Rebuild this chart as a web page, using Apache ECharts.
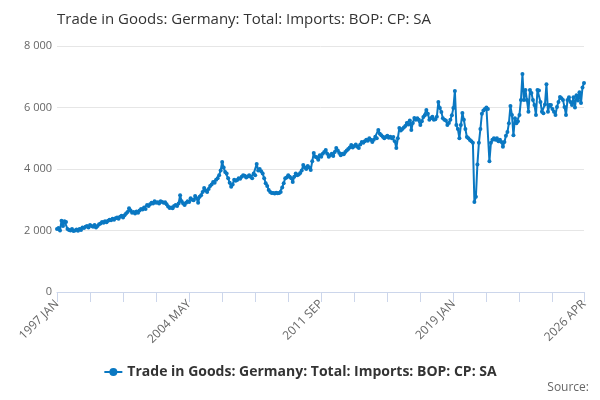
<!DOCTYPE html>
<html>
<head>
<meta charset="utf-8">
<script src="https://cdn.jsdelivr.net/npm/echarts@6/dist/echarts.min.js"></script>
<style>
  html, body { margin: 0; padding: 0; background: #fff; }
  #chart { width: 600px; height: 400px; }
</style>
</head>
<body>
<div id="chart"></div>
<script>
// monthly series, 1997 JAN .. 2026 APR
var years = [];
for (var y = 1997; y <= 2026; y++) years.push(y);
var months = ['JAN', 'FEB', 'MAR', 'APR', 'MAY', 'JUN', 'JUL', 'AUG', 'SEP', 'OCT', 'NOV', 'DEC'];

var imports = [
    2050, 2080, 2000, 2320, 2150, 2300, 2280, 2050, 2020, 2000, 2050, 1980, // 1997
    2000, 2030, 1990, 2050, 2020, 2100, 2080, 2120, 2150, 2100, 2180, 2150, // 1998
    2120, 2180, 2100, 2150, 2200, 2230, 2280, 2250, 2300, 2270, 2320, 2350, // 1999
    2330, 2380, 2350, 2400, 2420, 2380, 2450, 2480, 2420, 2500, 2550, 2600, // 2000
    2720, 2650, 2580, 2600, 2550, 2620, 2580, 2650, 2700, 2680, 2750, 2700, // 2001
    2830, 2800, 2850, 2900, 2880, 2950, 2900, 2920, 2880, 2950, 2930, 2900, // 2002
    2920, 2850, 2780, 2730, 2750, 2720, 2800, 2830, 2800, 2880, 3150, 2950, // 2003
    2880, 2830, 2900, 2950, 2930, 3050, 3000, 2980, 3120, 3050, 2900, 3100, // 2004
    3150, 3250, 3380, 3300, 3250, 3350, 3450, 3500, 3580, 3550, 3650, 3700, // 2005
    3800, 3950, 4230, 4050, 3900, 3850, 3700, 3550, 3420, 3500, 3650, 3620, // 2006
    3640, 3700, 3680, 3750, 3800, 3780, 3720, 3760, 3800, 3750, 3700, 3850, // 2007
    3800, 4160, 3950, 4000, 3930, 3850, 3700, 3540, 3450, 3320, 3250, 3220, // 2008
    3220, 3200, 3230, 3210, 3220, 3250, 3400, 3540, 3700, 3720, 3800, 3750, // 2009
    3700, 3580, 3750, 3850, 3800, 3820, 3870, 3950, 4130, 4050, 4000, 4100, // 2010
    4050, 3970, 4250, 4520, 4400, 4380, 4300, 4450, 4400, 4500, 4550, 4620, // 2011
    4500, 4400, 4450, 4500, 4420, 4550, 4680, 4600, 4520, 4450, 4500, 4480, // 2012
    4550, 4600, 4650, 4700, 4780, 4700, 4750, 4800, 4720, 4680, 4800, 4880, // 2013
    4850, 4900, 4950, 4920, 5000, 4950, 4880, 4950, 5050, 5000, 5270, 5150, // 2014
    5100, 5050, 5000, 5040, 5080, 5020, 5050, 5000, 5040, 4900, 4680, 5000, // 2015
    5330, 5250, 5300, 5350, 5400, 5500, 5450, 5580, 5270, 5500, 5660, 5600, // 2016
    5650, 5600, 5430, 5550, 5690, 5750, 5920, 5800, 5600, 5650, 5700, 5600, // 2017
    5620, 5700, 6180, 5980, 5850, 5650, 5600, 5580, 5430, 5500, 5600, 5750, // 2018
    5980, 6540, 5430, 5300, 5000, 5430, 5820, 5600, 5300, 5040, 5000, 4940, // 2019
    4900, 4850, 2930, 3100, 4150, 4850, 5300, 5800, 5900, 5950, 6000, 5950, // 2020
    4250, 4850, 4950, 5000, 4950, 5000, 4900, 4950, 4880, 4720, 4880, 5080, // 2021
    5200, 5490, 6050, 5760, 5100, 5650, 5490, 5550, 5760, 6240, 7090, 6240, // 2022
    6570, 6240, 5860, 6570, 6470, 6240, 6080, 5760, 6570, 6550, 6180, 5860, // 2023
    5810, 6100, 6760, 5860, 6080, 6080, 5950, 5860, 5760, 6020, 6180, 6340, // 2024
    6300, 6240, 6020, 5760, 6240, 6330, 6180, 6080, 6330, 6000, 6400, 6230, // 2025
    6500, 6150, 6650, 6800                                                  // 2026
];

var yTicks = [0, 2000, 4000, 6000, 8000];

var category = [];
years.forEach(function (yr) {
    months.forEach(function (m) {
        if (category.length < imports.length) category.push(yr + ' ' + m);
    });
});
var last = category.length - 1;

var seriesName = 'Trade in Goods: Germany: Total: Imports: BOP: CP: SA';

var myChart = echarts.init(document.getElementById('chart'));
var option = {
    animation: false,
    title: {
        text: seriesName,
        left: 52,
        top: 7,
        textStyle: {
            fontFamily: 'Open Sans',
            fontSize: 15,
            fontWeight: 'normal',
            color: '#333333'
        }
    },
    graphic: [{
        type: 'text',
        right: 11,
        top: 382,
        style: {
            text: 'Source:',
            font: '12px "Open Sans"',
            fill: '#666666'
        }
    }],
    legend: {
        bottom: 16,
        left: 'center',
        itemWidth: 18,
        itemHeight: 10,
        textStyle: {
            fontFamily: 'Open Sans',
            fontSize: 14,
            fontWeight: 'bold',
            color: '#333333'
        },
        data: [seriesName]
    },
    grid: {
        left: 57,
        right: 16,
        top: 46,
        bottom: 108
    },
    xAxis: {
        type: 'category',
        boundaryGap: false,
        data: category,
        axisLine: { lineStyle: { color: '#ccd6eb' } },
        axisTick: {
            length: 10,
            lineStyle: { color: '#ccd6eb' },
            interval: function (i) { return i % 22 === 0 || i === last; }
        },
        axisLabel: {
            rotate: 45,
            color: '#666666',
            fontFamily: 'Open Sans',
            fontSize: 12,
            margin: 10,
            interval: function (i) { return i % 88 === 0 || i === last; }
        },
        splitLine: { show: false }
    },
    yAxis: {
        type: 'value',
        min: yTicks[0],
        max: yTicks[yTicks.length - 1],
        interval: 2000,
        axisLine: { show: false },
        axisTick: { show: false },
        axisLabel: {
            color: '#666666',
            fontFamily: 'Open Sans',
            fontSize: 11,
            margin: 5,
            formatter: function (v) {
                return String(v).replace(/\B(?=(\d{3})+(?!\d))/g, ' ');
            }
        },
        splitLine: { lineStyle: { color: '#e6e6e6' } }
    },
    series: [{
        name: seriesName,
        type: 'line',
        data: imports,
        color: '#0a78c2',
        symbol: 'circle',
        symbolSize: 4,
        showAllSymbol: true,
        lineStyle: { width: 2 }
    }]
};
myChart.setOption(option);
</script>
</body>
</html>
